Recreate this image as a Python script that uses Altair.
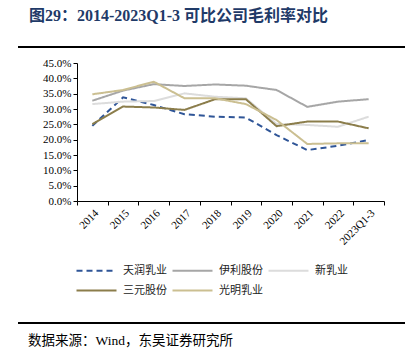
import altair as alt
import pandas as pd

years = ["2014", "2015", "2016", "2017", "2018", "2019", "2020", "2021", "2022", "2023Q1-3"]
tianrun = [24.5, 33.8, 31.3, 28.3, 27.5, 27.2, 21.5, 16.6, 18.0, 19.9]
yili = [32.7, 36.0, 38.1, 37.5, 38.0, 37.6, 36.2, 30.7, 32.4, 33.2]
xinru = [31.6, 32.4, 32.6, 35.1, 34.0, 33.5, 25.1, 24.8, 24.2, 27.5]
sanyuan = [25.1, 30.8, 30.5, 29.7, 33.2, 33.2, 24.4, 25.9, 25.9, 23.7]
guangming = [34.8, 36.2, 38.9, 33.5, 33.5, 31.6, 26.4, 18.6, 18.8, 18.8]

names = ["天润乳业", "伊利股份", "新乳业", "三元股份", "光明乳业"]
colors = ["#2f5597", "#a6a6a6", "#dcdcdc", "#8b7d4b", "#cbbf91"]
dashes = [[6, 4], [1, 0], [1, 0], [1, 0], [1, 0]]
y_ticks = [0.0, 0.05, 0.10, 0.15, 0.20, 0.25, 0.30, 0.35, 0.40, 0.45]

title_text = "图29：2014-2023Q1-3 可比公司毛利率对比"
source_text = "数据来源：Wind，东吴证券研究所"

rows = []
for name, vals in zip(names, [tianrun, yili, xinru, sanyuan, guangming]):
    for yr, v in zip(years, vals):
        rows.append({"year": yr, "value": v / 100.0, "series": name})
df = pd.DataFrame(rows)

serif = "Liberation Serif, Noto Sans CJK SC"
cjk = "Noto Sans CJK SC"

def make_legend():
    return alt.Legend(title=None, orient="none", legendX=14, legendY=202, direction="horizontal",
                      columns=3, symbolType="M-5,0L5,0", symbolSize=64,
                      symbolStrokeWidth=2, labelFont=cjk, labelFontSize=11,
                      labelColor="#222", labelOffset=21, columnPadding=1,
                      rowPadding=8, padding=0)

lines = alt.Chart(df).mark_line(strokeWidth=2).encode(
    x=alt.X("year:N", sort=years, bandPosition=0.5,
            scale=alt.Scale(type="band", paddingInner=0, paddingOuter=0),
            axis=alt.Axis(title=None, tickBand="extent", labelAngle=-45, labelAlign="right",
                          labelBaseline="top", labelFont=serif, labelFontSize=11,
                          labelColor="#000", domainColor="#000", tickColor="#000",
                          tickSize=4, labelPadding=2, grid=False)),
    y=alt.Y("value:Q", scale=alt.Scale(domain=[0, 0.45], nice=False),
            axis=alt.Axis(title=None, values=y_ticks, format=".1%", labelFont=serif,
                          labelFontSize=11, labelColor="#000", domainColor="#000",
                          tickColor="#000", tickSize=4, labelPadding=2, grid=False)),
    color=alt.Color("series:N", sort=names,
                    scale=alt.Scale(domain=names, range=colors),
                    legend=make_legend()),
    strokeDash=alt.StrokeDash("series:N", sort=names,
                              scale=alt.Scale(domain=names, range=dashes),
                              legend=make_legend()),
    order=alt.Order("year:N"),
)

title_mark = alt.Chart(pd.DataFrame({"t": [title_text]})).mark_text(
    align="left", baseline="middle", font=serif, fontSize=16, fontWeight="bold", color="#1f3a68"
).encode(x=alt.value(-48), y=alt.value(-47), text="t:N")

source_mark = alt.Chart(pd.DataFrame({"t": [source_text]})).mark_text(
    align="left", baseline="middle", font=serif, fontSize=13.5, color="#000"
).encode(x=alt.value(-49), y=alt.value(278), text="t:N")

top_rule = alt.Chart(pd.DataFrame({"a": [0]})).mark_rule(color="#000", strokeWidth=2).encode(
    x=alt.value(-59), x2=alt.value(328), y=alt.value(-16))
bottom_rule = alt.Chart(pd.DataFrame({"a": [0]})).mark_rule(color="#000", strokeWidth=2).encode(
    x=alt.value(-59), x2=alt.value(328), y=alt.value(260))

chart = alt.layer(lines, title_mark, source_mark, top_rule, bottom_rule).properties(
    width=307, height=138,
    autosize=alt.AutoSizeParams(type="none"),
    padding={"left": 77, "top": 63, "right": 34, "bottom": 150},
    background="white",
).configure_view(stroke=None)

chart.save("out.html", embed_options={"renderer": "svg", "actions": False})
